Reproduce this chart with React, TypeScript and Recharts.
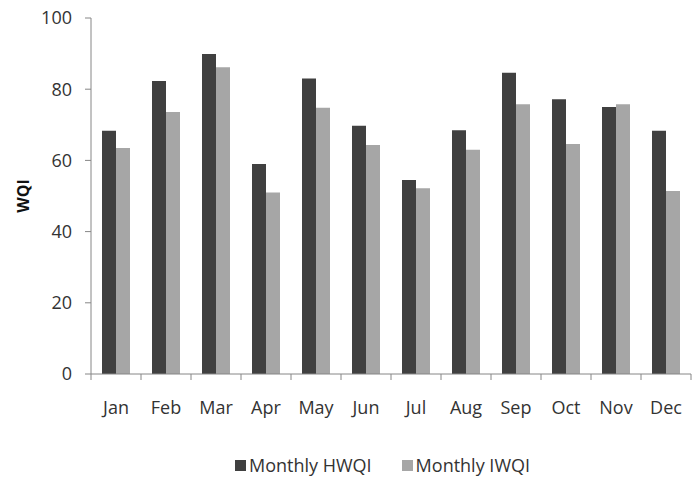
import React from "react";
import { Bar, BarChart, Legend, XAxis, YAxis } from "recharts";

const months = ["Jan", "Feb", "Mar", "Apr", "May", "Jun", "Jul", "Aug", "Sep", "Oct", "Nov", "Dec"];
const hwqi = [68.3, 82.3, 89.9, 59.0, 83.0, 69.7, 54.5, 68.5, 84.6, 77.2, 75.0, 68.3];
const iwqi = [63.5, 73.6, 86.2, 51.0, 74.8, 64.3, 52.2, 63.0, 75.8, 64.6, 75.8, 51.4];
const yTicks = [0, 20, 40, 60, 80, 100];

const data = months.map((m, i) => ({ month: m, hwqi: hwqi[i], iwqi: iwqi[i] }));

const FONT = "'Open Sans', sans-serif";
const AXIS = "#868686";
const DARK = "#404040";
const LIGHT = "#a6a6a6";

// month label plus Excel-style tick marks between the categories
function MonthTick(props: any) {
  const { x, y, payload, index } = props;
  const off = payload?.offset ?? 25;
  return (
    <g>
      <line x1={x - off} y1={y} x2={x - off} y2={y + 6} stroke={AXIS} />
      {index === months.length - 1 && (
        <line x1={x + off} y1={y} x2={x + off} y2={y + 6} stroke={AXIS} />
      )}
      <text x={x} y={y + 40} textAnchor="middle" fontSize={18} fill="#333" fontFamily={FONT}>
        {payload.value}
      </text>
    </g>
  );
}

function LegendBox({ payload }: any) {
  return (
    <div
      style={{
        height: 26,
        display: "flex",
        justifyContent: "center",
        alignItems: "center",
        gap: 30,
        paddingLeft: 74,
        fontFamily: FONT,
        fontSize: 18,
        color: "#333",
      }}
    >
      {(payload || []).map((p: any) => (
        <span key={p.value} style={{ display: "flex", alignItems: "center" }}>
          <span style={{ width: 11, height: 11, background: p.color, marginRight: 3, display: "inline-block" }} />
          {p.value}
        </span>
      ))}
    </div>
  );
}

export default function App() {
  return (
    <div style={{ position: "absolute", left: 0, top: 0, width: 692, height: 500, background: "#fff" }}>
      <BarChart
        width={692}
        height={500}
        data={data}
        margin={{ top: 18, right: 1, left: 0, bottom: 22 }}
        barCategoryGap="22%"
        barGap={0}
      >
        <XAxis
          dataKey="month"
          height={78}
          axisLine={{ stroke: AXIS }}
          tickLine={false}
          tickSize={0}
          tickMargin={0}
          interval={0}
          tick={<MonthTick />}
        />
        <YAxis
          width={91}
          domain={[0, 100]}
          ticks={yTicks}
          axisLine={{ stroke: AXIS }}
          tickLine={{ stroke: AXIS }}
          tickSize={6}
          tickMargin={13}
          tick={{ fontSize: 18, fill: "#333", fontFamily: FONT }}
          label={{
            content: ({ viewBox }: any) => {
              const cx = viewBox.x + 29;
              const cy = viewBox.y + viewBox.height / 2;
              return (
                <text
                  x={cx}
                  y={cy}
                  transform={`rotate(-90 ${cx} ${cy})`}
                  textAnchor="middle"
                  fontSize={16}
                  fontWeight="bold"
                  fill="#111"
                  fontFamily={FONT}
                >
                  WQI
                </text>
              );
            },
          }}
        />
        <Legend verticalAlign="bottom" content={<LegendBox />} />
        <Bar dataKey="hwqi" name="Monthly HWQI" fill={DARK} isAnimationActive={false} />
        <Bar dataKey="iwqi" name="Monthly IWQI" fill={LIGHT} isAnimationActive={false} />
      </BarChart>
    </div>
  );
}
